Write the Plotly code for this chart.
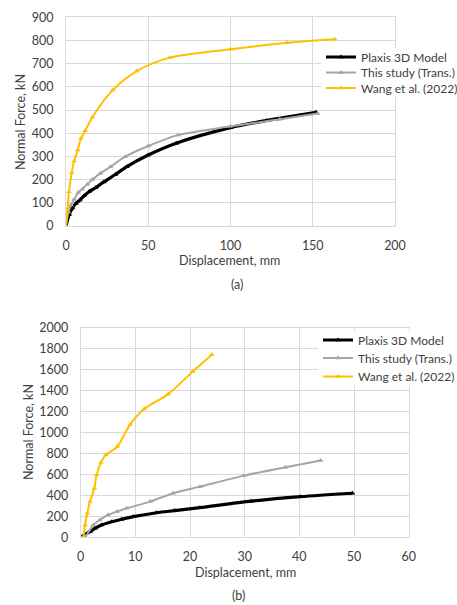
import plotly.graph_objects as go

# ---- (a) load-displacement data ----
plaxis_a_x = [0, 2, 4, 6, 8.5, 11, 14, 18, 23, 30, 37, 50, 67, 100, 122, 152]
plaxis_a_y = [0, 50, 78, 97, 112, 130, 148, 165, 190, 222, 256, 306, 357, 424, 455, 490]

study_a_x = [0, 1.5, 3, 5, 7.5, 10, 13, 16, 21, 27, 36, 50, 68, 100, 130, 153]
study_a_y = [0, 60, 90, 115, 144, 160, 180, 200, 228, 255, 299, 345, 392, 430, 460, 485]

wang_a_x = [0, 1, 1.8, 3.5, 4.9, 7.1, 9.1, 11.7, 16, 28.4, 43, 63, 100, 134.4, 163.4]
wang_a_y = [0, 76, 148, 230, 280, 328, 378, 411, 469, 586, 668, 726, 762, 790, 805]

# ---- (b) load-displacement data ----
plaxis_b_x = [0, 1.7, 2.6, 3.8, 5.7, 7.5, 9.6, 13.9, 17.2, 21.8, 31.2, 40.2, 49.7]
plaxis_b_y = [0, 54, 86, 118, 149, 172, 197, 235, 255, 283, 345, 388, 421]

study_b_x = [0, 0.8, 2.3, 3.5, 5.0, 6.6, 8.4, 12.7, 16.9, 21.8, 29.7, 37.5, 43.9]
study_b_y = [0, 6, 118, 166, 213, 245, 277, 341, 421, 484, 587, 670, 733]

wang_b_x = [0.5, 0.8, 1.2, 1.7, 2.5, 2.9, 3.7, 4.6, 6.7, 9.0, 11.6, 16.0, 20.5, 24.0]
wang_b_y = [0, 118, 230, 341, 469, 596, 714, 788, 867, 1075, 1225, 1368, 1585, 1745]

series_names = ["Plaxis 3D Model", "This study (Trans.)", "Wang et al. (2022)"]
series_colors = ["#000000", "#a5a5a5", "#ffc000"]
series_widths = [3.2, 2, 2]

a_xticks = [0, 50, 100, 150, 200]
a_yticks = [0, 100, 200, 300, 400, 500, 600, 700, 800, 900]
b_xticks = [0, 10, 20, 30, 40, 50, 60]
b_yticks = [0, 200, 400, 600, 800, 1000, 1200, 1400, 1600, 1800, 2000]

FONT = "Lato"
TXT = "#404040"
GRID = "#d9d9d9"
W, H = 457, 605


def px_x(p):
    return p / W


def px_y(p):
    return 1 - p / H


fig = go.Figure()

# one legend per entry so each row sits at its own height;
# a white panel behind each group hides the gridlines
legend_rows = {
    "a": (321, [57, 72.5, 88]),
    "b": (318, [340, 358, 376.5]),
}

panels = [
    ("a", [plaxis_a_x, study_a_x, wang_a_x], [plaxis_a_y, study_a_y, wang_a_y], "x", "y"),
    ("b", [plaxis_b_x, study_b_x, wang_b_x], [plaxis_b_y, study_b_y, wang_b_y], "x2", "y2"),
]
legend_layout = {}
lg_index = 0
for key, xs, ys, xa, ya in panels:
    lx, rows = legend_rows[key]
    fig.add_shape(type="rect", xref="paper", yref="paper", layer="above",
                  x0=px_x(lx), x1=1, y0=px_y(rows[-1] + 9), y1=px_y(rows[0] - 9),
                  fillcolor="white", line_width=0)
    for i in range(3):
        lg_index += 1
        lg_name = "legend" if lg_index == 1 else f"legend{lg_index}"
        legend_layout[lg_name] = dict(
            x=px_x(lx), y=px_y(rows[i]), xanchor="left", yanchor="middle",
            bgcolor="rgba(0,0,0,0)", borderwidth=0, itemwidth=30,
            font=dict(family=FONT, size=12, color=TXT),
        )
        fig.add_trace(go.Scatter(
            x=xs[i], y=ys[i], name=series_names[i], xaxis=xa, yaxis=ya, legend=lg_name,
            mode="lines+markers",
            line=dict(color=series_colors[i], width=series_widths[i], shape="spline", smoothing=0.8),
            marker=dict(symbol="triangle-up", size=5, color=series_colors[i]),
        ))

axis_common = dict(
    showgrid=True, gridcolor=GRID, gridwidth=1, zeroline=False,
    showline=True, linecolor=GRID, linewidth=1, mirror=True,
    ticks="outside", tickcolor="rgba(0,0,0,0)",
    tickfont=dict(family=FONT, size=12.5, color=TXT),
    automargin=False,
)

fig.update_layout(
    width=W, height=H, margin=dict(l=0, r=0, t=0, b=0, autoexpand=False),
    paper_bgcolor="white", plot_bgcolor="white",
    xaxis=dict(domain=[px_x(66), px_x(395)], range=[0, 200], tickvals=a_xticks, anchor="y", ticklen=8, **axis_common),
    yaxis=dict(domain=[px_y(226), px_y(17.3)], range=[0, 900], tickvals=a_yticks, anchor="x", ticklen=9, **axis_common),
    xaxis2=dict(domain=[px_x(80.7), px_x(408.7)], range=[0, 60], tickvals=b_xticks, anchor="y2", ticklen=8, **axis_common),
    yaxis2=dict(domain=[px_y(537.3), px_y(328)], range=[0, 2000], tickvals=b_yticks, anchor="x2", ticklen=9, **axis_common),
    showlegend=True,
    **legend_layout,
)

annots = [
    ("Normal Force, kN", 20, 122, -90),
    ("Displacement, mm", 230, 260, 0),
    ("(a)", 237, 284, 0),
    ("Normal Force, kN", 28, 432, -90),
    ("Displacement, mm", 245, 572, 0),
    ("(b)", 238, 595, 0),
]
for text, x, y, ang in annots:
    fig.add_annotation(text=text, x=px_x(x), y=px_y(y), xref="paper", yref="paper",
                       showarrow=False, textangle=ang, xanchor="center", yanchor="middle",
                       font=dict(family=FONT, size=12.5, color=TXT))

fig.write_html("out.html")
